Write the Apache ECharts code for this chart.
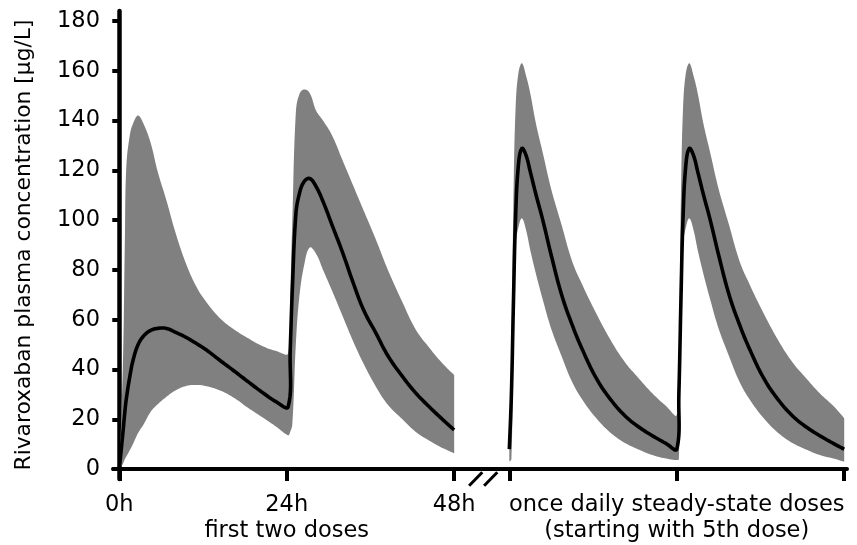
<!DOCTYPE html>
<html>
<head>
<meta charset="utf-8">
<script src="https://cdn.jsdelivr.net/npm/echarts@6/dist/echarts.min.js"></script>
<style>
html,body{margin:0;padding:0;background:#fff;}
#chart{width:857px;height:545px;}
</style>
</head>
<body>
<div id="chart"></div>
<script>
// ---- Data ----
// First two doses: time in hours after first dose
const leftTimes = [0, 0.5, 0.8, 1, 1.5, 2, 2.7, 3.5, 4.5, 5.5, 6.75, 8, 9.5, 11, 12.5, 14.5, 16.5, 18.5, 20.5, 22.5, 24.2,
  24.5, 24.8, 25.3, 25.8, 26.5, 27.3, 28.2, 29.2, 30.5, 32, 33.5, 35, 36.8, 38.5, 40.5, 42.5, 44.5, 46.3, 48];
const leftMean = [0, 14, 23, 28, 37, 44, 50, 53.5, 55.7, 56.5, 56.5, 55, 53, 50.5, 47.8, 43.5, 39.3, 35, 30.8, 27, 25,
  48, 72, 102, 110.5, 115.5, 116.7, 113.5, 107.5, 98, 87, 75, 64, 54.5, 45.5, 37.5, 30.5, 24.8, 20, 15.7];
const leftUpper = [0, 40, 92, 121, 134, 139, 142, 138.5, 131, 119.5, 108, 95.5, 83, 73.5, 67, 60.4, 56, 52.5, 49.4, 47.4, 46.5,
  70, 100, 143, 150.5, 152.5, 151, 144, 140, 134, 124, 114, 104, 92, 80, 67.5, 56, 48.5, 42.5, 37.8];
const leftLower = [0, 2, 4, 5, 7.5, 10.3, 14.5, 18, 23, 26, 29, 31.5, 33.3, 33.8, 33.3, 31.5, 28.5, 24.5, 20.8, 17, 13.6,
  15, 18, 50, 69, 82, 89, 86.5, 80, 71.6, 61.5, 51.4, 42.4, 33, 25.8, 20.2, 14.9, 11.3, 8.5, 6.3];

// Steady state (from 5th dose): time in hours within the steady-state window
const rightTimes = [0, 0.3, 0.6, 0.9, 1.3, 1.8, 2.4, 3.0, 3.8, 4.8, 6.0, 7.5, 9.0, 10.5, 12.5, 14.5, 16.5, 18.5, 20.5, 22.5, 24.0,
  24.3, 24.6, 24.9, 25.3, 25.8, 26.4, 27.0, 27.8, 28.8, 30.0, 31.5, 33.0, 34.5, 36.5, 38.5, 40.5, 42.5, 44.5, 46.5, 48.0];
const rightMean = [8, 30, 68, 101, 122, 128.8, 126, 119.5, 110.5, 100, 86, 70, 58, 47.8, 36.3, 28, 21.6, 17, 13.4, 10.2, 8,
  30, 68, 101, 122, 128.8, 126, 119.5, 110.5, 100, 86, 70, 58, 47.8, 36.3, 28, 21.6, 17, 13.4, 10.2, 8];
const rightUpper = [8, 45, 110, 145, 159, 163, 158, 151, 139, 127, 112.5, 98, 83.5, 73.8, 62.3, 51.9, 43.2, 36.6, 30.4, 25.2, 21.7,
  45, 110, 145, 159, 163, 158, 151, 139, 127, 112.5, 98, 83.5, 73.8, 62.3, 51.9, 43.2, 36.6, 30.4, 25.2, 20.4];
const rightLower = [3, 4, 55, 90, 97, 100.7, 96, 88, 78.6, 68, 56.4, 45.3, 35, 27.7, 20.3, 14.6, 10.6, 7.9, 5.6, 4.2, 3.6,
  4, 55, 90, 97, 100.7, 96, 88, 78.6, 68, 56.4, 45.3, 35, 27.7, 20.3, 14.6, 10.6, 7.9, 5.6, 4.2, 2.9];

const yTicks = [0, 20, 40, 60, 80, 100, 120, 140, 160, 180];
const leftTickHours = [0, 24, 48];
const leftTickLabels = ['0h', '24h', '48h'];
const leftCaption = 'first two doses';
const rightTickHours = [0, 24, 48];
const rightCaption = ['once daily steady-state doses', '(starting with 5th dose)'];
const yTitle = 'Rivaroxaban plasma concentration [\u03bcg/L]';

// ---- Layout constants ----
const RIGHT_OFFSET = 55.9;   // axis position where the steady-state window starts
const BREAK_POS = 52.16;     // axis position of the break symbol
const FONT = 'DejaVu Sans';
const SMOOTH = 0.4;
const STEPS = 10;

const rightPos = rightTimes.map(t => t + RIGHT_OFFSET);
const xTickValues = leftTickHours.concat(rightTickHours.map(h => h + RIGHT_OFFSET));
const xLabelValues = leftTickHours.concat([rightTickHours[1] + RIGHT_OFFSET]);

function near(a, b) { return Math.abs(a - b) < 1e-6; }
function xLabel(v) {
  for (let i = 0; i < leftTickHours.length; i++) {
    if (near(v, leftTickHours[i])) {
      return i === 1 ? leftTickLabels[i] + '\n' + leftCaption : leftTickLabels[i];
    }
  }
  if (near(v, rightTickHours[1] + RIGHT_OFFSET)) return rightCaption.join('\n');
  return '';
}

// smooth curve through pixel points (cardinal-style bezier, sampled)
function dist(a, b) { return Math.hypot(a[0] - b[0], a[1] - b[1]); }
function smoothPts(pts) {
  const n = pts.length, out = [pts[0]];
  for (let i = 0; i < n - 1; i++) {
    const p0 = pts[i - 1] || pts[i], p1 = pts[i], p2 = pts[i + 1], p3 = pts[i + 2] || pts[i + 1];
    const d1 = dist(p1, p2), d0 = dist(p0, p1), d2 = dist(p2, p3);
    let c1 = p1, c2 = p2;
    if (i > 0 && d0 + d1 > 0) {
      const k = SMOOTH * d1 / (d0 + d1);
      c1 = [p1[0] + (p2[0] - p0[0]) * k, p1[1] + (p2[1] - p0[1]) * k];
    }
    if (i < n - 2 && d1 + d2 > 0) {
      const k = SMOOTH * d1 / (d1 + d2);
      c2 = [p2[0] - (p3[0] - p1[0]) * k, p2[1] - (p3[1] - p1[1]) * k];
    }
    for (let s = 1; s <= STEPS; s++) {
      const t = s / STEPS, u = 1 - t;
      out.push([
        u * u * u * p1[0] + 3 * u * u * t * c1[0] + 3 * u * t * t * c2[0] + t * t * t * p2[0],
        u * u * u * p1[1] + 3 * u * u * t * c1[1] + 3 * u * t * t * c2[1] + t * t * t * p2[1]
      ]);
    }
  }
  return out;
}

function bandSeries(xs, lo, hi) {
  return {
    type: 'custom', data: [[xs[0], lo[0]]], silent: true, z: 1,
    renderItem: function (params, api) {
      const up = smoothPts(xs.map((x, i) => api.coord([x, hi[i]])));
      const dn = smoothPts(xs.map((x, i) => api.coord([x, lo[i]])));
      return {
        type: 'polygon',
        shape: { points: up.concat(dn.reverse()) },
        style: { fill: '#808080', stroke: null }
      };
    }
  };
}
function meanSeries(xs, ys) {
  return {
    type: 'custom', data: [[xs[0], ys[0]]], silent: true, z: 3,
    renderItem: function (params, api) {
      return {
        type: 'polyline',
        shape: { points: smoothPts(xs.map((x, i) => api.coord([x, ys[i]]))) },
        style: { stroke: '#000', lineWidth: 3.6, fill: null, lineJoin: 'round', lineCap: 'butt' }
      };
    }
  };
}

const chart = echarts.init(document.getElementById('chart'), null, { renderer: 'canvas' });
chart.setOption({
  animation: false,
  backgroundColor: '#fff',
  textStyle: { fontFamily: FONT },
  grid: { left: 113, right: 10, top: 11, bottom: 66, containLabel: false },
  xAxis: {
    type: 'value', min: -0.9, max: 104.3,
    axisLine: { lineStyle: { color: '#000', width: 4 } },
    axisTick: { show: true, customValues: xTickValues, length: 12, lineStyle: { color: '#000', width: 4 } },
    axisLabel: {
      customValues: xLabelValues, formatter: xLabel, margin: 13,
      color: '#000', fontFamily: FONT, fontSize: 22.5, lineHeight: 26, align: 'center'
    },
    splitLine: { show: false }
  },
  yAxis: {
    type: 'value', min: -4, max: 184,
    name: yTitle, nameLocation: 'middle', nameGap: 78,
    nameTextStyle: { color: '#000', fontFamily: FONT, fontSize: 21.8 },
    axisLine: { show: true, lineStyle: { color: '#000', width: 4.5 } },
    axisTick: { show: true, customValues: yTicks, length: 7, lineStyle: { color: '#000', width: 4 } },
    axisLabel: { customValues: yTicks, margin: 13, color: '#000', fontFamily: FONT, fontSize: 22.5 },
    splitLine: { show: false }
  },
  series: [
    bandSeries(leftTimes, leftLower, leftUpper),
    bandSeries(rightPos, rightLower, rightUpper),
    meanSeries(leftTimes, leftMean),
    meanSeries(rightPos, rightMean)
  ]
});

// axis break symbol "//" on the x axis
const p = chart.convertToPixel({ gridIndex: 0 }, [BREAK_POS, -4]);
const brk = [-7.5, 7.5].map(dx => ({
  type: 'line',
  shape: { x1: p[0] + dx - 6.6, y1: p[1] + 6.7, x2: p[0] + dx + 6.6, y2: p[1] - 6.7 },
  style: { stroke: '#000', lineWidth: 3 },
  z: 10
}));
chart.setOption({ graphic: brk });
</script>
</body>
</html>
